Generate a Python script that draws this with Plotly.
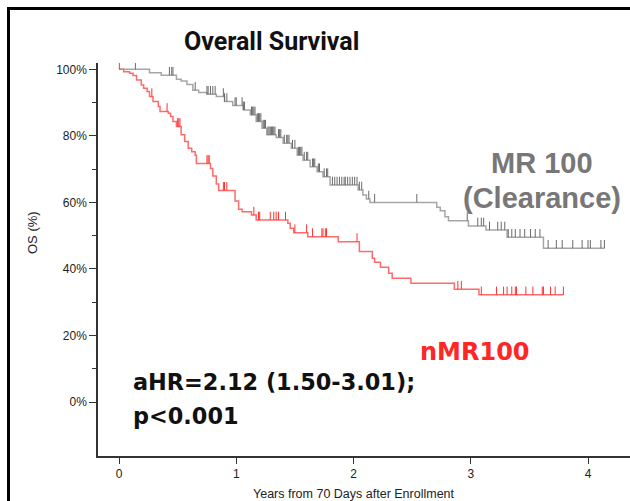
import plotly.graph_objects as go

# ---- Kaplan-Meier estimates (years, survival %) ----
mr100_time = [0, 0.26, 0.36, 0.49, 0.53, 0.58, 0.63, 0.68, 0.75, 0.83, 0.90, 0.97,
              1.06, 1.12, 1.17, 1.22, 1.26, 1.34, 1.40, 1.47, 1.52, 1.57, 1.63, 1.69,
              1.74, 1.80, 2.04, 2.08, 2.11, 2.14, 2.71, 2.74, 2.78, 2.81, 2.98, 3.13,
              3.31, 3.62, 4.14]
mr100_surv = [100, 99.0, 98.2, 97.0, 96.5, 95.4, 93.7, 93.0, 92.5, 91.8, 90.3, 89.1,
              87.8, 86.3, 84.3, 82.3, 80.3, 79.5, 77.8, 76.3, 74.2, 72.7, 70.7, 69.2,
              67.7, 65.2, 63.7, 62.2, 61.0, 60.0, 58.5, 57.5, 55.7, 54.5, 52.9, 51.7,
              49.5, 46.2, 46.2]
mr100_censored = [0.14, 0.43, 0.45, 0.46, 0.65, 0.75, 0.76, 0.78, 0.80, 0.82, 0.89,
                  0.90, 0.92, 0.99, 1.00, 1.05, 1.06, 1.07, 1.13, 1.14, 1.15, 1.16,
                  1.18, 1.19, 1.20, 1.21, 1.23, 1.24, 1.25, 1.27, 1.28, 1.29, 1.30,
                  1.31, 1.32, 1.33, 1.36, 1.37, 1.38, 1.41, 1.43, 1.44, 1.45, 1.48,
                  1.50, 1.53, 1.54, 1.55, 1.56, 1.58, 1.60, 1.61, 1.65, 1.66, 1.67,
                  1.70, 1.71, 1.75, 1.77, 1.78, 1.82, 1.84, 1.86, 1.88, 1.90, 1.92,
                  1.93, 1.95, 1.97, 1.99, 2.01, 2.03, 2.05, 2.07, 2.13, 2.18, 2.54,
                  2.97, 3.06, 3.09, 3.11, 3.16, 3.23, 3.26, 3.29, 3.32, 3.35, 3.38,
                  3.42, 3.46, 3.51, 3.55, 3.59, 3.66, 3.73, 3.78, 3.87, 3.95, 4.00,
                  4.02, 4.11, 4.14]

nmr100_time = [0, 0.04, 0.09, 0.12, 0.15, 0.19, 0.21, 0.24, 0.26, 0.29, 0.335, 0.35,
               0.42, 0.44, 0.46, 0.49, 0.53, 0.56, 0.59, 0.62, 0.65, 0.66, 0.78, 0.80,
               0.83, 0.85, 0.99, 1.02, 1.05, 1.13, 1.17, 1.44, 1.46, 1.49, 1.61, 1.87,
               2.05, 2.16, 2.18, 2.23, 2.30, 2.33, 2.49, 2.86, 3.07, 3.79]
nmr100_surv = [100, 99.3, 98.8, 98.1, 96.8, 95.3, 94.3, 93.3, 91.8, 90.3, 88.8, 87.3,
               86.8, 85.8, 84.3, 82.8, 80.3, 78.3, 76.3, 75.2, 74.2, 71.7, 70.2, 67.9,
               65.5, 63.6, 60.4, 57.9, 57.2, 56.2, 54.7, 53.7, 52.2, 50.9, 49.7, 48.2,
               45.2, 43.2, 42.0, 40.5, 38.7, 37.2, 35.7, 33.9, 32.2, 32.2]
nmr100_censored = [0.003, 0.28, 0.41, 0.50, 0.51, 0.52, 0.75, 0.76, 0.77, 0.89, 0.90,
                   0.92, 1.15, 1.19, 1.20, 1.29, 1.32, 1.34, 1.36, 1.42, 1.50, 1.60,
                   1.65, 1.73, 1.74, 1.76, 1.77, 2.03, 2.89, 2.92, 3.09, 3.22, 3.28,
                   3.31, 3.35, 3.38, 3.39, 3.47, 3.53, 3.61, 3.62, 3.68, 3.72, 3.79]

y_tickvals = [0, 20, 40, 60, 80, 100]
y_ticktext = ["0%", "20%", "40%", "60%", "80%", "100%"]
x_tickvals = [0, 1, 2, 3, 4]

# ---- page geometry ----
W, H = 630, 501
ML, MR, MT, MB = 98, 0, 63, 45
PW, PH = W - ML - MR, H - MT - MB


def px_x(px):
    return (px - ML) / PW


def px_y(py):
    return (H - MB - py) / PH


def surv_at(times, surv, t):
    s = surv[0]
    for ti, si in zip(times, surv):
        if ti <= t:
            s = si
        else:
            break
    return s


def censor_marks(times, surv, cens, length=2.5):
    xs, ys = [], []
    for c in cens:
        s = surv_at(times, surv, c)
        xs += [c, c, None]
        ys += [s, s + length, None]
    return xs, ys


fig = go.Figure()

GRAY_LINE = "#a6a6a6"
GRAY_TICK = "#6a6a6a"
RED_LINE = "#ff6b6b"
RED_TICK = "#ff3333"

fig.add_trace(go.Scatter(x=mr100_time, y=mr100_surv, mode="lines",
                         line=dict(color=GRAY_LINE, width=1.5, shape="hv"),
                         showlegend=False, hoverinfo="skip", cliponaxis=False))
cx, cy = censor_marks(mr100_time, mr100_surv, mr100_censored)
fig.add_trace(go.Scatter(x=cx, y=cy, mode="lines",
                         line=dict(color=GRAY_TICK, width=1),
                         showlegend=False, hoverinfo="skip", cliponaxis=False))

fig.add_trace(go.Scatter(x=nmr100_time, y=nmr100_surv, mode="lines",
                         line=dict(color=RED_LINE, width=1.5, shape="hv"),
                         showlegend=False, hoverinfo="skip", cliponaxis=False))
cx, cy = censor_marks(nmr100_time, nmr100_surv, nmr100_censored)
fig.add_trace(go.Scatter(x=cx, y=cy, mode="lines",
                         line=dict(color=RED_TICK, width=1),
                         showlegend=False, hoverinfo="skip", cliponaxis=False))

k_x = 117.25                     # pixels per year
x0 = -(119 - ML) / k_x
x1 = x0 + PW / k_x
k_y = 3.327                      # pixels per percent
y1 = 100 + (69.3 - MT) / k_y
y0 = y1 - PH / k_y

axis_font = dict(family="Liberation Sans, Arial, sans-serif", size=12, color="#222222")

fig.update_xaxes(range=[x0, x1], tickvals=x_tickvals, ticks="outside", ticklen=6,
                 tickwidth=1.3, tickcolor="#333333", showline=True, linecolor="#333333",
                 linewidth=1.5, showgrid=False, zeroline=False, tickfont=axis_font)
fig.update_yaxes(range=[y0, y1], tickvals=y_tickvals, ticktext=y_ticktext,
                 ticks="outside", ticklen=7, tickwidth=1.3, tickcolor="#333333",
                 minor=dict(tickvals=[10, 30, 50, 70, 90], ticks="outside", ticklen=4,
                            tickwidth=1.3, tickcolor="#333333"),
                 showline=True, linecolor="#333333", linewidth=1.5, showgrid=False,
                 zeroline=False, tickfont=axis_font)

annotations = [
    dict(text="Overall Survival", x=px_x(271.7), y=px_y(41.4),
         font=dict(family="Roboto", size=25, color="#111111", weight="bold")),
    dict(text="MR 100", x=px_x(541.7), y=px_y(163.2),
         font=dict(family="Liberation Sans, Arial", size=29, color="#777777", weight="bold")),
    dict(text="(Clearance)", x=px_x(541.7), y=px_y(198.0),
         font=dict(family="Liberation Sans, Arial", size=29, color="#777777", weight="bold")),
    dict(text="nMR100", x=px_x(475), y=px_y(351.6),
         font=dict(family="DejaVu Sans", size=24, color="#ff2626", weight="bold")),
    dict(text="aHR=2.12 (1.50-3.01);", x=px_x(132), y=px_y(381.5), xanchor="left",
         font=dict(family="DejaVu Sans", size=22.4, color="#111111", weight="bold")),
    dict(text="p<0.001", x=px_x(132), y=px_y(415.5), xanchor="left",
         font=dict(family="DejaVu Sans", size=22.4, color="#111111", weight="bold")),
    dict(text="OS (%)", x=px_x(32.5), y=px_y(232.5), textangle=-90,
         font=dict(family="Liberation Sans, Arial", size=13, color="#222222")),
    dict(text="Years from 70 Days after Enrollment", x=px_x(353.7), y=px_y(494),
         font=dict(family="Liberation Sans, Arial", size=12.5, color="#222222")),
]
for a in annotations:
    a.setdefault("xanchor", "center")
    a.update(xref="paper", yref="paper", yanchor="middle", showarrow=False, borderpad=0)

# slide frame around the chart
frame = dict(color="#000000", width=3)
shapes = [
    dict(type="line", xref="paper", yref="paper", x0=px_x(8.5), x1=px_x(8.5),
         y0=px_y(7), y1=px_y(510), line=frame),
    dict(type="line", xref="paper", yref="paper", x0=px_x(7), x1=px_x(640),
         y0=px_y(8.5), y1=px_y(8.5), line=frame),
]

fig.update_layout(width=W, height=H, margin=dict(l=ML, r=MR, t=MT, b=MB),
                  paper_bgcolor="white", plot_bgcolor="white",
                  annotations=annotations, shapes=shapes, showlegend=False)

fig.write_html("out.html", config={"displayModeBar": False})
